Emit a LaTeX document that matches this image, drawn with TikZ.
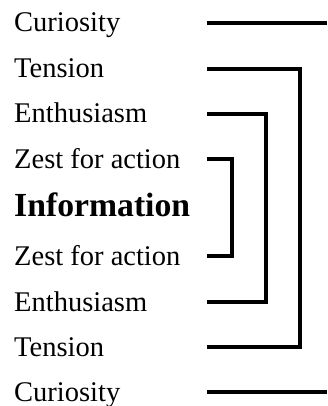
\documentclass[tikz,border=0pt]{standalone}
\usepackage{fontspec}
\setmainfont{Liberation Serif}
\begin{document}
\begin{tikzpicture}[x=1pt,y=-1pt,
  lbl/.style={anchor=base west,inner sep=0pt,font=\fontsize{28.5}{34}\selectfont},
  boldlbl/.style={anchor=base west,inner sep=0pt,font=\fontsize{33.7}{40}\selectfont\bfseries},
  brk/.style={line width=3.4pt,line join=miter}]
\useasboundingbox (0,0) rectangle (327,406);
% labels
\node[lbl] (cur1) at (14,32) {Curiosity};
\node[lbl] (ten1) at (14,78) {Tension};
\node[lbl] (ent1) at (14,123) {Enthusiasm};
\node[lbl] (zes1) at (14,168) {Zest for action};
\node[boldlbl] (inf) at (14,216.5) {Information};
\node[lbl] (zes2) at (14,265) {Zest for action};
\node[lbl] (ent2) at (14,311) {Enthusiasm};
\node[lbl] (ten2) at (14,356) {Tension};
\node[lbl] (cur2) at (14,401) {Curiosity};
% line end points
\coordinate (c1a) at (207,23);  \coordinate (c1b) at (327,23);
\coordinate (c2a) at (207,392); \coordinate (c2b) at (327,392);
\coordinate (t1a) at (207,69);  \coordinate (t1b) at (300,69);
\coordinate (t2a) at (207,347); \coordinate (t2b) at (300,347);
\coordinate (e1a) at (207,114); \coordinate (e1b) at (266,114);
\coordinate (e2a) at (207,302); \coordinate (e2b) at (266,302);
\coordinate (z1a) at (207,159); \coordinate (z1b) at (232,159);
\coordinate (z2a) at (207,256); \coordinate (z2b) at (232,256);
% connectors
\draw[brk] (c1a) -- (c1b);
\draw[brk] (c2a) -- (c2b);
\draw[brk] (t1a) -- (t1b) -- (t2b) -- (t2a);
\draw[brk] (e1a) -- (e1b) -- (e2b) -- (e2a);
\draw[brk] (z1a) -- (z1b) -- (z2b) -- (z2a);
\end{tikzpicture}
\end{document}
